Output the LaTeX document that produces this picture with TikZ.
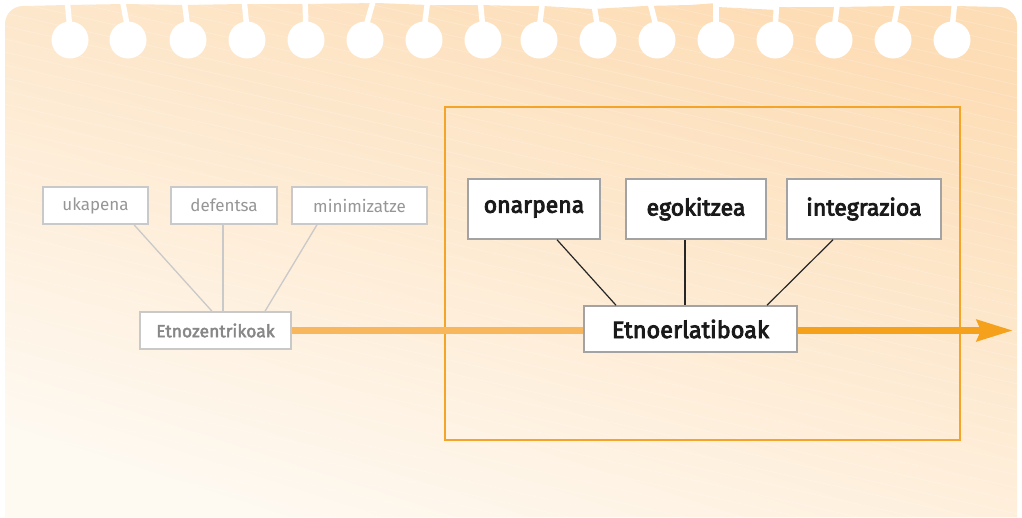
\documentclass[tikz,border=0pt]{standalone}
\usepackage{fontspec}
\setmainfont{Fira Sans}
\newfontfamily\medfont{Fira Sans}[FakeBold=3.5]
\newfontfamily\semifont{Fira Sans}[FakeBold=2.5]
\usetikzlibrary{arrows.meta,calc}
\definecolor{pagetop}{HTML}{FDDDB6}
\definecolor{pagebot}{HTML}{FEF9F1}
\definecolor{orl}{HTML}{F8B75C}
\definecolor{ord}{HTML}{F5A11C}
\definecolor{frameor}{HTML}{F5A42A}
\definecolor{lgray}{HTML}{C9C9C9}
\definecolor{ltext}{HTML}{969696}
\definecolor{dgray}{HTML}{A3A3A3}
\definecolor{dtext}{HTML}{1A1A1A}
\begin{document}
\begin{tikzpicture}[x=1pt,y=-1pt,
  softbox/.style={draw=lgray, line width=1.5pt, fill=white, inner sep=0pt,
    text=ltext, minimum height=37pt, font=\fontsize{17}{20}\selectfont},
  softmain/.style={softbox, text=ltext!90!black, font=\semifont\fontsize{17.5}{20}\selectfont},
  hardbox/.style={draw=dgray, line width=1.5pt, fill=white, inner sep=0pt,
    text=dtext, minimum height=60pt, font=\medfont\fontsize{23}{27}\selectfont},
  hardmain/.style={hardbox, minimum height=46pt, font=\medfont\fontsize{23.5}{27}\selectfont},
  softlink/.style={draw=lgray, line width=1.3pt},
  hardlink/.style={draw=black!85, line width=1.2pt},
  flowlight/.style={draw=orl, line width=7pt},
  flowdark/.style={draw=ord, line width=7pt, -{Stealth[length=36pt,width=21pt,inset=4pt]}},
  framebox/.style={draw=frameor, line width=1.6pt},
  hole/.style={fill=white},
  slit/.style={draw=white, line width=5.5pt}
]
\useasboundingbox (0,0) rectangle (1022,517);
% page
\def\pagepath{(5,517) -- (5,24) arc[start angle=180, end angle=270, radius=18]
  -- (67,5) -- (125,4) -- (184,5) -- (242,4) -- (305,4) -- (377,3) -- (428,5)
  -- (480,5) -- (520,6) -- (543,6) -- (593,9) -- (645,6) -- (690,5) -- (717,3)
  -- (717,7) -- (777,10) -- (777,7) -- (837,7) -- (898,6) -- (955,6) -- (999,7)
  arc[start angle=270, end angle=360, radius=18] -- (1017,517) -- cycle}
\shade[top color=pagetop, bottom color=pagebot, shading angle=-18] \pagepath;
\begin{scope}
  \clip \pagepath;
  \foreach \c in {-300,-287,...,520}
    \draw[white, opacity=0.2, line width=0.8pt] (0,\c) -- (1022,\c+230);
\end{scope}
% holes
\foreach \cx/\dx in {70/-3,128/-6,188/-4,247/-3,306/-1,365/9,424/4,483/-3,539/4,598/-5,657/-8,716/0,775/2,834/4,893/6,952/3}{
  \fill[hole] (\cx,40) circle (18.5);
  \draw[slit] (\cx,30) -- (\cx+\dx,-2);
}
% frame
\draw[framebox] (445,107) rectangle (960,440);
% left group
\node[softbox, minimum width=105pt] (uk) at (95.5,205.5) {ukapena};
\node[softbox, minimum width=106pt] (def) at (224,205.5) {defentsa};
\node[softbox, minimum width=135pt] (min) at (359.5,205.5) {minimizatze};
\node[softmain, minimum width=151pt] (etz) at (215.5,330.5) {Etnozentrikoak};
% right group
\node[hardbox, minimum width=132pt] (ona) at (534,209) {onarpena};
\node[hardbox, minimum width=140pt] (ego) at (696,209) {egokitzea};
\node[hardbox, minimum width=154pt] (int) at (864,209) {integrazioa};
\node[hardmain, minimum width=213pt] (eoe) at (690.5,329) {Etnoerlatiboak};
\coordinate (tip) at (1013,330.5);
% flow
\draw[flowlight] (etz.east) -- (etz.east -| eoe.west);
\draw[flowdark] (eoe.east |- tip) -- (tip);
% links
\draw[softlink] ([xshift=38.5pt]uk.south) -- ([xshift=-3.5pt]etz.north);
\draw[softlink] ([xshift=-1pt]def.south) -- ([xshift=-1pt]def.south |- etz.north);
\draw[softlink] ([xshift=-42.5pt]min.south) -- ([xshift=49.5pt]etz.north);
\draw[hardlink] ([xshift=23pt]ona.south) -- ([xshift=-74.5pt]eoe.north);
\draw[hardlink] ([xshift=-11pt]ego.south) -- ([xshift=-11pt]ego.south |- eoe.north);
\draw[hardlink] ([xshift=-31pt]int.south) -- ([xshift=76.5pt]eoe.north);
\end{tikzpicture}
\end{document}
